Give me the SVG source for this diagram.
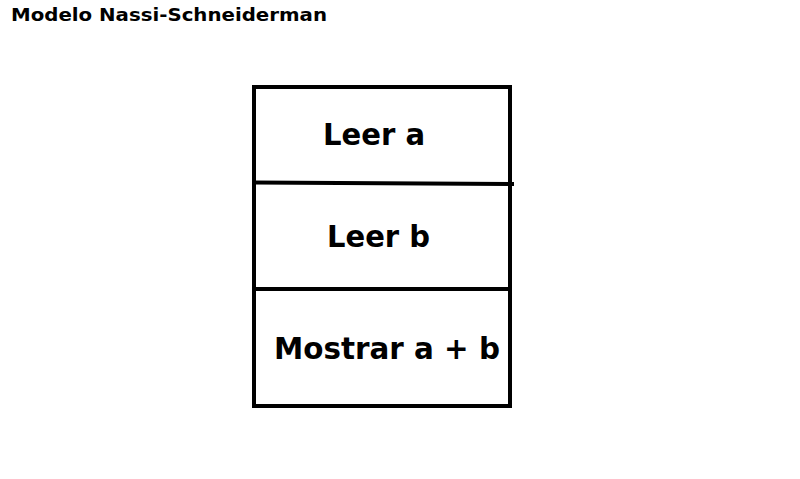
<svg xmlns="http://www.w3.org/2000/svg" width="800" height="479" viewBox="0 0 800 479">
<style>
.t{font-family:"DejaVu Sans",Verdana,sans-serif;font-weight:bold;fill:#000}
.ln{stroke:#000;stroke-width:4;fill:none;stroke-linecap:square}
</style>
<rect width="800" height="479" fill="#fff"/>
<text class="t" x="11" y="20.5" font-size="18" textLength="316" lengthAdjust="spacingAndGlyphs">Modelo Nassi-Schneiderman</text>
<g id="connectors">
<rect class="ln" x="254" y="87" width="256" height="319"/>
</g>
<g id="node1">
<line class="ln" x1="254" y1="182.5" x2="512" y2="184"/>
<text class="t" x="323" y="144.5" font-size="29.5" textLength="102" lengthAdjust="spacingAndGlyphs">Leer a</text>
</g>
<g id="node2">
<line class="ln" x1="254" y1="289" x2="510" y2="289"/>
<text class="t" x="327" y="246.5" font-size="29.5" textLength="103" lengthAdjust="spacingAndGlyphs">Leer b</text>
</g>
<g id="node3">
<text class="t" x="274" y="358.5" font-size="29.5" textLength="226" lengthAdjust="spacingAndGlyphs">Mostrar a + b</text>
</g>
</svg>
